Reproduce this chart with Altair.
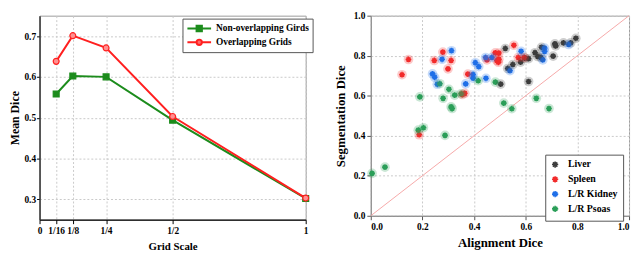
import altair as alt
import pandas as pd

# ---------------- left panel data ----------------
grid_scale = [1/16, 1/8, 1/4, 1/2, 1]
non_overlap = [0.558, 0.602, 0.600, 0.494, 0.302]
overlap = [0.638, 0.701, 0.671, 0.503, 0.303]
series_names = ["Non-overlapping Girds", "Overlapping Grids"]
x_tick_values = [0, 0.0625, 0.125, 0.25, 0.5, 1]
x_tick_labels = ["0", "1/16", "1/8", "1/4", "1/2", "1"]
y_tick_values = [0.3, 0.4, 0.5, 0.6, 0.7]

# ---------------- right panel data ----------------
classes = ["Liver", "Spleen", "L/R Kidney", "L/R Psoas"]
liver_x = [0.794, 0.774, 0.746, 0.713, 0.716, 0.706, 0.661, 0.636, 0.646, 0.659,
           0.611, 0.596, 0.580, 0.550, 0.530, 0.521, 0.503, 0.611]
liver_y = [0.887, 0.864, 0.864, 0.859, 0.849, 0.798, 0.842, 0.815, 0.796, 0.791,
           0.785, 0.788, 0.768, 0.756, 0.736, 0.836, 0.658, 0.671]
spleen_x = [0.146, 0.121, 0.246, 0.279, 0.311, 0.299, 0.376, 0.354, 0.364, 0.1875,
            0.554, 0.482, 0.496, 0.450, 0.488, 0.494, 0.496, 0.571, 0.594]
spleen_y = [0.781, 0.705, 0.776, 0.818, 0.776, 0.734, 0.708, 0.606, 0.612, 0.405,
            0.852, 0.814, 0.813, 0.779, 0.776, 0.767, 0.782, 0.791, 0.791]
kidney_x = [0.3125, 0.276, 0.239, 0.2475, 0.2575, 0.3675, 0.396, 0.396, 0.405, 0.418,
            0.4445, 0.469, 0.446, 0.539, 0.582, 0.673, 0.673, 0.666, 0.766]
kidney_y = [0.825, 0.782, 0.709, 0.692, 0.657, 0.659, 0.706, 0.688, 0.765, 0.745,
            0.791, 0.791, 0.687, 0.725, 0.822, 0.838, 0.821, 0.779, 0.856]
psoas_x = [0.005, 0.055, 0.184, 0.204, 0.2875, 0.190, 0.2675, 0.280, 0.3025, 0.325,
           0.311, 0.315, 0.416, 0.4825, 0.515, 0.546, 0.641, 0.690, 0.350]
psoas_y = [0.212, 0.243, 0.428, 0.440, 0.402, 0.594, 0.660, 0.587, 0.632, 0.603,
           0.544, 0.536, 0.675, 0.668, 0.563, 0.535, 0.587, 0.536, 0.610]
diag_x = [0, 1]
xy_ticks = [0.0, 0.2, 0.4, 0.6, 0.8, 1.0]

FONT = "Liberation Serif"
GREEN = "#1c8c1c"
RED = "#ff1f1f"

# ---------------- left panel ----------------
left_df = pd.DataFrame({
    "scale": grid_scale * 2,
    "dice": non_overlap + overlap,
    "series": [series_names[0]] * len(grid_scale) + [series_names[1]] * len(grid_scale),
    "order": list(range(len(grid_scale))) * 2,
})

vals_js = "[" + ",".join(str(v) for v in x_tick_values) + "]"
labs_js = "[" + ",".join("'" + s + "'" for s in x_tick_labels) + "]"
label_expr = f"{labs_js}[indexof({vals_js}, datum.value)]"

lx = alt.X("scale:Q", scale=alt.Scale(domain=[0, 1], nice=False, zero=False),
           axis=alt.Axis(values=x_tick_values, labelExpr=label_expr, title="Grid Scale",
                         titleFontSize=11, labelFontSize=9.5, titlePadding=6,
                         domainColor="#000", domainWidth=1.2, tickColor="#000",
                         labelFlush=False))
ly = alt.Y("dice:Q", scale=alt.Scale(domain=[0.25, 0.75], nice=False, zero=False),
           axis=alt.Axis(values=y_tick_values, format=".1f", title="Mean Dice",
                         titleFontSize=12, labelFontSize=9.5, titlePadding=2,
                         labelPadding=1, tickSize=3,
                         domainColor="#333", domainWidth=1.5, tickColor="#000"))

# legend symbols: a line segment with the series marker in its middle
legend_shape_scale = alt.Scale(domain=series_names, range=[
    "M-2,0H-0.45M0.45,0H2M-0.45,-0.45H0.45V0.45H-0.45Z",
    "M-2,0H-0.45M0.45,0H2M0.45,0A0.45,0.45,0,1,1,-0.45,0A0.45,0.45,0,1,1,0.45,0",
])
legend_fill_scale = alt.Scale(domain=series_names, range=[GREEN, "#ff6a6a"])
legend_stroke_scale = alt.Scale(domain=series_names, range=[GREEN, RED])

left_legend = alt.Legend(title=None, orient="none", legendX=145, legendY=3,
                         labelFont=FONT, labelFontWeight="bold", labelFontSize=9.5,
                         symbolSize=144, symbolStrokeWidth=2, symbolOpacity=1,
                         symbolOffset=7, strokeColor="#555", fillColor="white",
                         padding=3, rowPadding=0, labelOffset=10, labelLimit=200)

def series_layers(name, color, shape, fill):
    base = alt.Chart(left_df).transform_filter(alt.datum.series == name)
    ln = base.mark_line(strokeWidth=2, color=color).encode(x=lx, y=ly, order="order:Q")
    pt = base.mark_point(shape=shape, filled=True, size=36, fill=fill, stroke=color,
                         strokeWidth=1.2, opacity=1).encode(x=lx, y=ly)
    return [ln, pt]

green_layers = series_layers(series_names[0], GREEN, "square", GREEN)
red_layers = series_layers(series_names[1], RED, "circle", "#ff9090")

legend_carrier = alt.Chart(left_df).mark_point(filled=True, opacity=0, strokeWidth=2).encode(
    x=lx, y=ly,
    shape=alt.Shape("series:N", scale=legend_shape_scale, legend=left_legend),
    fill=alt.Fill("series:N", scale=legend_fill_scale, legend=left_legend),
    stroke=alt.Stroke("series:N", scale=legend_stroke_scale, legend=left_legend),
)
left = alt.layer(*green_layers, *red_layers, legend_carrier).properties(width=270, height=207)

# ---------------- right panel ----------------
rows = []
for cls, xs, ys in [(classes[0], liver_x, liver_y), (classes[1], spleen_x, spleen_y),
                    (classes[2], kidney_x, kidney_y), (classes[3], psoas_x, psoas_y)]:
    for a, b in zip(xs, ys):
        rows.append({"align": a, "seg": b, "cls": cls})
right_df = pd.DataFrame(rows)
diag_df = pd.DataFrame({"align": diag_x, "seg": diag_x})

rx = alt.X("align:Q", scale=alt.Scale(domain=[0, 1], nice=False),
           axis=alt.Axis(values=xy_ticks, format=".1f", title="Alignment Dice",
                         titleFontSize=13, labelFontSize=9.5, titlePadding=6))
ry = alt.Y("seg:Q", scale=alt.Scale(domain=[0, 1], nice=False),
           axis=alt.Axis(values=xy_ticks, format=".1f", title="Segmentation Dice",
                         titleFontSize=13, labelFontSize=9.5, titlePadding=6))

class_scale = alt.Scale(domain=classes, range=["#3c3c3c", "#f22b2b", "#1f6fe8", "#2a9e58"])
ASTER = "M0,-1L0,1M-1,0L1,0M-0.7,-0.7L0.7,0.7M-0.7,0.7L0.7,-0.7"

right_legend = alt.Legend(title=None, orient="none", legendX=513, legendY=141,
                          labelFont=FONT, labelFontWeight="bold",
                          labelFontSize=10, symbolType=ASTER, symbolSize=40,
                          symbolStrokeWidth=1.6, symbolOpacity=1, strokeColor="#555",
                          fillColor="white", padding=5, rowPadding=1, labelOffset=8)

diag = alt.Chart(diag_df).mark_line(color="#f6a9a9", strokeWidth=1).encode(x=rx, y=ry)
stars = alt.Chart(right_df).mark_point(shape=ASTER, size=34, strokeWidth=1.6,
                                       filled=False, opacity=1).encode(
    x=rx, y=ry,
    color=alt.Color("cls:N", scale=class_scale, legend=right_legend),
)
halo = alt.Chart(right_df).mark_circle(size=95, opacity=0.25).encode(
    x=rx, y=ry, color=alt.Color("cls:N", scale=class_scale, legend=right_legend)
)
right = alt.layer(diag, stars, halo).properties(width=262, height=203)

chart = alt.hconcat(left, right, spacing=22).properties(
    padding={"left": 0, "top": 0, "right": 0, "bottom": 0}
).configure_view(stroke="#9a9a9a", strokeWidth=1).configure_axis(
    labelFont=FONT, titleFont=FONT, labelFontWeight="bold", titleFontWeight="bold",
    labelColor="#000", titleColor="#000", gridDash=[2, 2], gridColor="#c9c9c9",
    domainColor="#888", tickColor="#555", tickSize=4, labelPadding=2,
)

chart.save("out.html", embed_options={"renderer": "svg", "actions": False})
